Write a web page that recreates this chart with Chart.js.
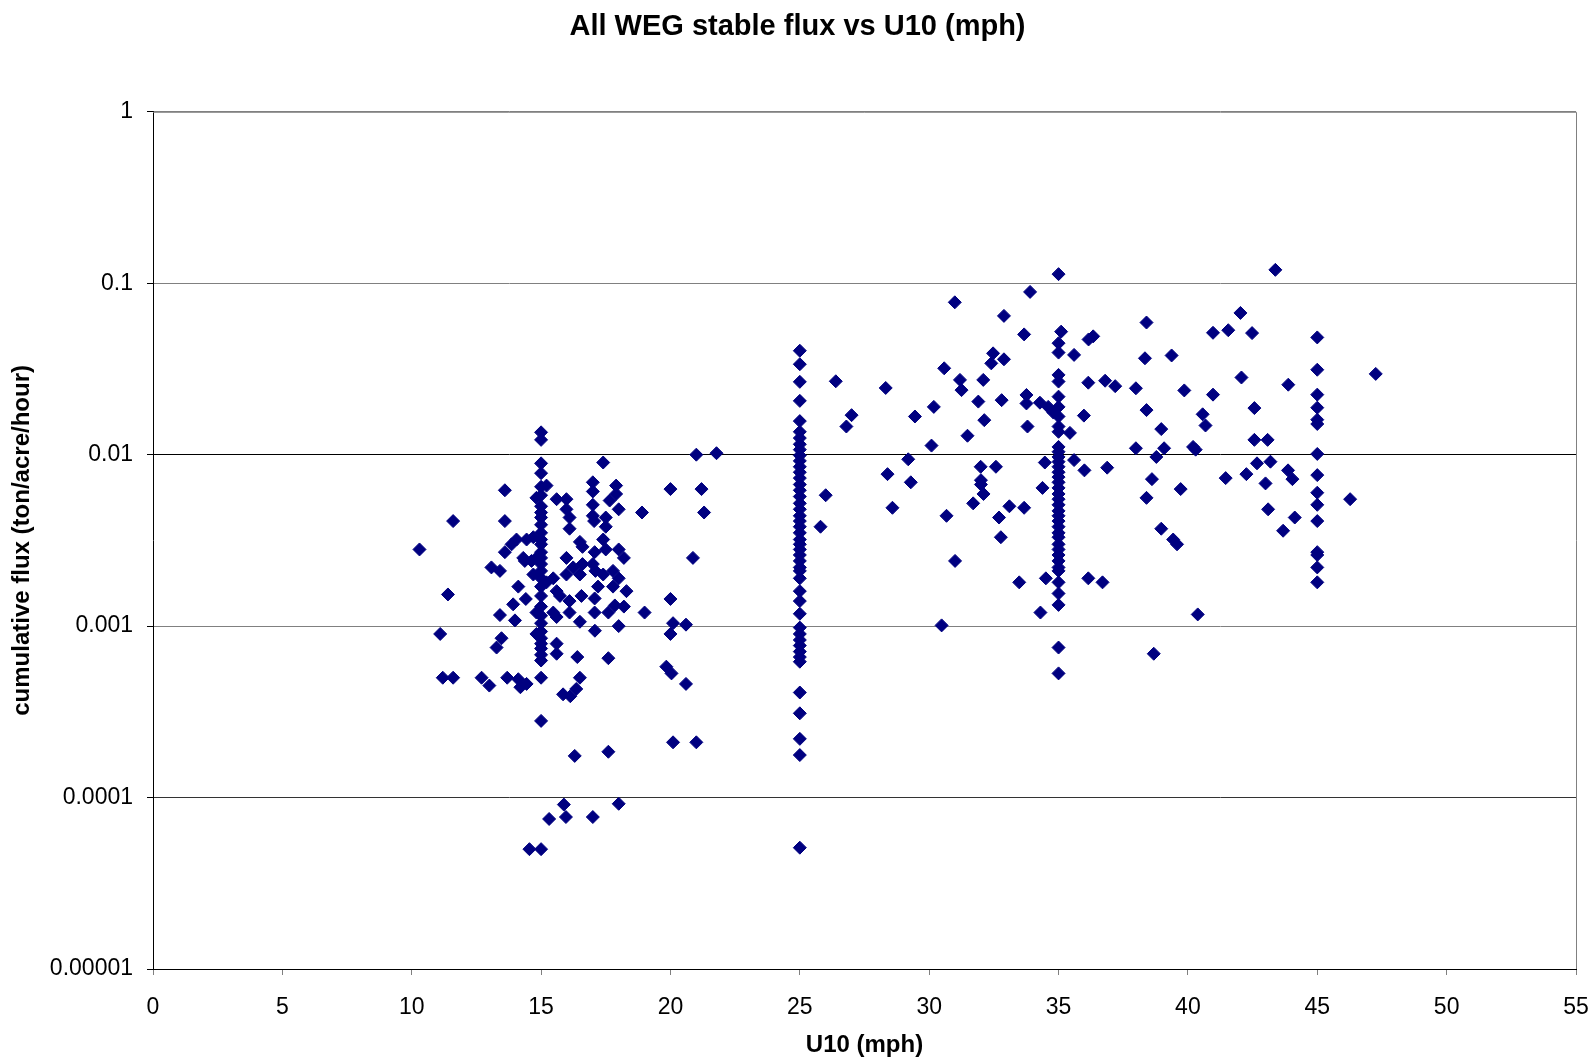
<!DOCTYPE html>
<html>
<head>
<meta charset="utf-8">
<title>All WEG stable flux vs U10</title>
<script src="https://cdn.jsdelivr.net/npm/chart.js@4.4.0/dist/chart.umd.min.js"></script>
<style>
  body { margin: 0; background: #fff; }
</style>
</head>
<body>
<canvas id="fluxChart" width="1595" height="1060"></canvas>
<script>
// runs logged at a fixed wind speed (vertical stacks)
const col15Flux = [0.0135, 0.0122, 0.0089, 0.0078, 0.0065, 0.0058, 0.005, 0.0046, 0.0043, 0.0039, 0.0035, 0.0032,
  0.003, 0.0027, 0.0025, 0.0023, 0.0021, 0.0019, 0.0017, 0.0015, 0.0013, 0.00115, 0.00104, 0.00093, 0.00085,
  0.00079, 0.00074, 0.00068, 0.00063, 0.0005, 0.00028, 0.00005];
const col25Flux = [0.0404, 0.0337, 0.0266, 0.0206, 0.0157, 0.0136, 0.0125, 0.0115, 0.0107, 0.0099, 0.0092, 0.0085,
  0.0079, 0.0073, 0.0067, 0.0062, 0.0057, 0.0052, 0.0048, 0.0044, 0.0041, 0.0038, 0.0035, 0.0032, 0.003, 0.0028,
  0.0026, 0.0024, 0.0022, 0.0021, 0.0019, 0.0016, 0.0014, 0.00118, 0.00098, 0.0009, 0.00083, 0.00077, 0.00071,
  0.00066, 0.00062, 0.00041, 0.00031, 0.00022, 0.000177, 0.000051];
const col35Flux = [0.113, 0.0447, 0.0394, 0.0292, 0.0267, 0.0218, 0.019, 0.0167, 0.0146, 0.0136, 0.0111, 0.0104,
  0.0097, 0.0091, 0.0085, 0.0079, 0.0074, 0.0069, 0.0064, 0.0059, 0.0055, 0.0051, 0.0047, 0.0044, 0.0041, 0.0038,
  0.0035, 0.0033, 0.003, 0.0028, 0.0026, 0.0024, 0.0022, 0.0021, 0.0018, 0.00155, 0.00133, 0.00075, 0.00053];
const col45Flux = [0.0483, 0.0313, 0.0224, 0.0188, 0.016, 0.0151, 0.0101, 0.0076, 0.006, 0.0051, 0.0041, 0.0027,
  0.0026, 0.0022, 0.0018];

// scattered runs, low winds (10 - 22 mph)
const lowU10 = [10.3, 11.1, 11.2, 11.4, 11.6, 11.6, 12.7, 13.0, 13.08, 13.28, 13.41, 13.41, 13.47, 13.6, 13.6, 13.6,
  13.69, 13.86, 13.92, 13.99, 14.05, 14.12, 14.12, 14.2, 14.31, 14.37, 14.41, 14.44, 14.44, 14.55, 14.63, 14.7, 14.7,
  14.82, 14.82, 14.82, 14.82, 15.21, 15.21, 15.31, 15.47, 15.47, 15.6, 15.6, 15.6, 15.6, 15.6, 15.73, 15.85, 15.88,
  15.96, 15.98, 15.98, 16.1, 16.1, 16.5, 16.6, 17.0, 17.0, 17.0, 17.0, 17.05, 17.9, 17.9, 17.65, 18.0, 17.5, 17.5,
  17.4, 17.5, 17.07, 18.0, 18.2, 15.98, 16.24, 16.6, 15.98, 16.5, 17.0, 17.1, 17.4, 17.78, 18.0, 17.78, 18.3, 17.2,
  17.07, 16.1, 16.56, 16.1, 16.5, 17.07, 17.6, 17.85, 18.2, 17.08, 18.0, 19.0, 18.9, 20.0, 20.1, 20.0, 20.6, 16.4,
  17.6, 16.5, 16.36, 16.13, 19.84, 20.04, 20.6, 20.1, 21.0, 16.3, 17.6, 17.4, 20.0, 21.2, 21.3, 20.87, 21.0, 21.78,
  17.0, 18.0];
const lowFlux = [0.0028, 0.0009, 0.0005, 0.00153, 0.0041, 0.0005, 0.0005, 0.00045, 0.0022, 0.00075, 0.0021, 0.00116,
  0.00085, 0.0062, 0.0041, 0.0027, 0.0005, 0.003, 0.00134, 0.00108, 0.0032, 0.0017, 0.00049, 0.00044, 0.0025, 0.0024,
  0.00144, 0.0032, 0.00046, 0.00005, 0.0024, 0.0033, 0.002, 0.0056, 0.0025, 0.0012, 0.0009, 0.0066, 0.0018, 0.000075,
  0.0019, 0.0012, 0.0055, 0.0016, 0.00113, 0.00079, 0.00069, 0.0015, 0.0004, 0.000091, 0.000077, 0.0055, 0.0048,
  0.0043, 0.0037, 0.0031, 0.0029, 0.0069, 0.0061, 0.0051, 0.0044, 0.0041, 0.0066, 0.0059, 0.0054, 0.0048, 0.0043,
  0.0038, 0.0032, 0.0028, 0.0027, 0.0028, 0.0025, 0.0025, 0.0022, 0.0023, 0.002, 0.002, 0.0023, 0.0021, 0.002, 0.0021,
  0.0019, 0.0017, 0.0016, 0.0017, 0.00145, 0.0014, 0.0015, 0.0012, 0.00106, 0.0012, 0.0012, 0.00132, 0.0013, 0.00094,
  0.001, 0.0012, 0.0046, 0.00144, 0.00104, 0.0009, 0.00102, 0.00066, 0.00065, 0.0005, 0.00043, 0.00039, 0.00058,
  0.00053, 0.00046, 0.00021, 0.00021, 0.000175, 0.000185, 0.009, 0.0063, 0.0063, 0.0046, 0.0025, 0.01, 0.0102,
  0.000077, 0.000092];

// scattered runs, 25 - 35 mph
const midU10 = [26.39, 27.0, 26.8, 26.0, 25.8, 30.99, 32.89, 33.67, 33.9, 32.47, 32.4, 32.89, 30.58, 28.32, 31.19,
  31.25, 32.09, 31.9, 32.8, 33.76, 33.76, 30.18, 29.45, 32.13, 31.48, 33.8, 30.09, 29.19, 28.39, 29.29, 31.99, 32.58,
  32.0, 32.0, 32.1, 31.7, 33.1, 33.67, 32.7, 28.58, 30.67, 32.77, 31.0, 33.48, 30.48, 34.28, 34.6, 34.8, 34.47, 34.38,
  34.51, 34.3, 35.1];
const midFlux = [0.0268, 0.017, 0.0146, 0.0058, 0.0038, 0.0774, 0.0645, 0.0503, 0.089, 0.039, 0.0341, 0.036, 0.0319,
  0.0245, 0.0273, 0.0238, 0.0273, 0.0204, 0.0208, 0.0223, 0.0199, 0.019, 0.0167, 0.0159, 0.0129, 0.0146, 0.0113,
  0.0094, 0.0077, 0.0069, 0.0085, 0.0085, 0.0071, 0.0067, 0.0059, 0.0052, 0.005, 0.0049, 0.0043, 0.0049, 0.0044,
  0.0033, 0.0024, 0.0018, 0.00101, 0.0201, 0.019, 0.0176, 0.009, 0.0064, 0.0019, 0.0012, 0.0522];

// scattered runs, above 35 mph
const highU10 = [35.6, 36.16, 36.34, 38.4, 38.34, 36.15, 36.8, 37.19, 37.99, 38.4, 35.98, 35.44, 37.99, 35.6, 36.0,
  36.88, 36.15, 36.7, 38.61, 38.4, 42.03, 40.97, 41.56, 42.48, 39.37, 39.86, 40.97, 42.07, 42.57, 40.57, 40.68, 38.97,
  39.08, 38.78, 40.2, 40.3, 42.57, 43.08, 42.67, 42.26, 43.19, 41.46, 39.72, 43.0, 43.1, 38.97, 39.43, 39.58, 40.38,
  38.68, 43.38, 47.26, 43.88, 43.87, 44.04, 46.27, 43.68, 44.13];
const highFlux = [0.0382, 0.047, 0.049, 0.059, 0.0365, 0.0263, 0.027, 0.0251, 0.0244, 0.0182, 0.0169, 0.0134, 0.0109,
  0.0093, 0.0081, 0.0084, 0.0019, 0.0018, 0.0072, 0.0056, 0.0671, 0.0514, 0.0532, 0.0512, 0.0379, 0.0237, 0.0224,
  0.0282, 0.0187, 0.0172, 0.0148, 0.0141, 0.0109, 0.0097, 0.0111, 0.0107, 0.0122, 0.0122, 0.0089, 0.0077, 0.0091,
  0.0073, 0.0063, 0.0068, 0.0048, 0.0037, 0.0032, 0.003, 0.00117, 0.00069, 0.1197, 0.0296, 0.0256, 0.0081, 0.0072,
  0.0055, 0.0036, 0.0043];

const yTicks = [0.00001, 0.0001, 0.001, 0.01, 0.1, 1];

const FONT = "'Liberation Sans', Arial, Helvetica, sans-serif";

function pairs(xs, ys) {
  return ys.map((y, i) => ({ x: xs[i], y: y }));
}
function stack(x, ys) {
  return ys.map(y => ({ x: x, y: y }));
}

const points = [
  ...stack(15, col15Flux),
  ...stack(25, col25Flux),
  ...stack(35, col35Flux),
  ...stack(45, col45Flux),
  ...pairs(lowU10, lowFlux),
  ...pairs(midU10, midFlux),
  ...pairs(highU10, highFlux)
];

// gray frame on the top and right of the plot area
const plotFrame = {
  id: "plotFrame",
  afterLayout(chart) {
    // center the title on the whole canvas, not on the padded box
    if (chart.titleBlock) chart.titleBlock.right = chart.width;
  },
  beforeDatasetsDraw(chart) {
    const a = chart.chartArea;
    const ctx = chart.ctx;
    ctx.save();
    ctx.strokeStyle = "#808080";
    ctx.lineWidth = 1;
    ctx.beginPath();
    ctx.moveTo(a.left, a.top + 0.5);
    ctx.lineTo(a.right + 0.5, a.top + 0.5);
    ctx.lineTo(a.right + 0.5, a.bottom);
    ctx.stroke();
    ctx.restore();
  }
};

new Chart(document.getElementById("fluxChart"), {
  type: "scatter",
  data: {
    datasets: [{
      data: points,
      pointStyle: "rectRot",
      pointRadius: 6.5,
      borderWidth: 1,
      backgroundColor: "#000080",
      borderColor: "#000080"
    }]
  },
  options: {
    responsive: false,
    animation: false,
    layout: { padding: { left: 0, right: 19, top: 0, bottom: 0 } },
    plugins: {
      legend: { display: false },
      tooltip: { enabled: false },
      title: {
        display: true,
        text: "All WEG stable flux vs U10 (mph)",
        color: "#000",
        font: { family: FONT, size: 29, weight: "bold" },
        padding: { top: 10, bottom: 67 }
      }
    },
    scales: {
      x: {
        type: "linear",
        min: 0,
        max: 55,
        ticks: { stepSize: 5, color: "#000", font: { family: FONT, size: 23 }, padding: 19, maxRotation: 0 },
        grid: { drawOnChartArea: false, drawTicks: true, tickLength: 6, tickColor: "#808080" },
        border: { color: "#000", width: 1 },
        title: {
          display: true,
          text: "U10 (mph)",
          color: "#000",
          font: { family: FONT, size: 24, weight: "bold" },
          padding: { top: 0, bottom: 0 }
        },
        afterFit: s => {
          s.height = 91;
          s.paddingLeft = 0;
          s.paddingRight = 0;
        }
      },
      y: {
        type: "logarithmic",
        min: 0.00001,
        max: 1,
        afterBuildTicks: s => { s.ticks = yTicks.map(v => ({ value: v })); },
        ticks: {
          autoSkip: false,
          color: "#000",
          font: { family: FONT, size: 23 },
          padding: 14,
          callback: v => String(v)
        },
        grid: {
          color: c => {
            const v = c.tick && c.tick.value;
            if (v === 0.01) return "#000";
            if (v === 0.0001) return "#333";
            return "#808080";
          },
          tickLength: 6,
          tickColor: "#000"
        },
        border: { color: "#000", width: 1 },
        title: {
          display: true,
          text: "cumulative flux (ton/acre/hour)",
          color: "#000",
          font: { family: FONT, size: 24, weight: "bold" },
          padding: { top: 8, bottom: 0 }
        },
        afterFit: s => { s.width = 153; }
      }
    }
  },
  plugins: [plotFrame]
});
</script>
</body>
</html>
